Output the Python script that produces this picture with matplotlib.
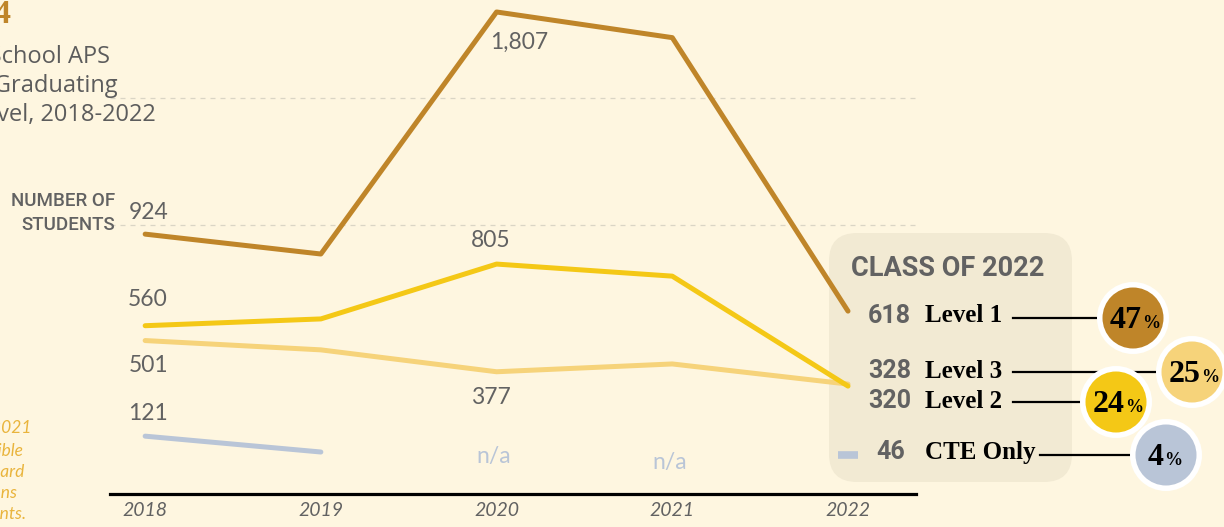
import matplotlib.pyplot as plt
import matplotlib.transforms as mtransforms
from matplotlib.patches import FancyBboxPatch, Circle
from matplotlib.lines import Line2D

# data
years = [2018, 2019, 2020, 2021, 2022]
level1 = [924, 845, 1807, 1705, 618]
level2 = [560, 587, 805, 757, 320]
level3 = [501, 464, 377, 408, 328]
cte_years = [2018, 2019]
cte = [121, 58]
cte_2022 = 46
na_years = [2020, 2021]

legend_labels = ['Level 1', 'Level 3', 'Level 2', 'CTE Only']
legend_counts = [618, 328, 320, 46]
legend_pcts = [47, 25, 24, 4]
grid_vals = [960, 1465]

# colours
bg = '#FEF6E0'
c1 = '#BF8529'
c2 = '#F4C816'
c3 = '#F6D37A'
c4 = '#B9C5D7'
grey = '#626262'
sans = ['Lato', 'DejaVu Sans']
bold_sans = ['Roboto', 'DejaVu Sans']
serif = ['Liberation Serif', 'DejaVu Serif']

W, H = 1224, 527
fig = plt.figure(figsize=(W / 100, H / 100), dpi=100, facecolor=bg)
# pixel coords, origin top-left
px = mtransforms.Affine2D().scale(1 / 100, -1 / 100).translate(0, H / 100) + fig.dpi_scale_trans

ax = fig.add_axes([110 / W, 1 - 494 / H, (916 - 110) / W, 494 / H])
ax.patch.set_visible(False)
ax.set_xlim(2017.80, 2022.387)
ax.set_ylim(-108.9, 1854.6)
for s in ['top', 'right', 'left']:
    ax.spines[s].set_visible(False)
ax.spines['bottom'].set_linewidth(2.3)
ax.spines['bottom'].set_color('black')

ax.set_yticks(grid_vals)
ax.set_yticklabels([])
ax.yaxis.grid(True, linestyle=(0, (4, 4)), color='#DAD5C5', linewidth=0.9)
ax.tick_params(axis='y', length=0)
ax.set_xticks(years)
ax.set_xticklabels([str(y) for y in years], fontsize=14, style='italic',
                   color=grey, family=sans)
ax.tick_params(axis='x', length=0, pad=6)

kw = dict(lw=3.6, solid_capstyle='round', solid_joinstyle='round', clip_on=False)
ax.plot(cte_years, cte, color=c4, **kw)
ax.plot(years, level3, color=c3, **kw)
ax.plot(years, level2, color=c2, **kw)
ax.plot(years, level1, color=c1, **kw)
ax.plot([2022], [cte_2022], marker='_', markersize=15, mew=5.5, color=c4,
        solid_capstyle='round', clip_on=False)

# value labels (series, year index, offset in px)
labels = [(level1, 0, (3, 22)), (level1, 2, (23, -30)),
          (level2, 0, (3, 26)), (level2, 2, (-6, 24)),
          (level3, 0, (3, -25)), (level3, 2, (-6, -26)),
          (cte, 0, (3, 23))]
for series, i, off in labels:
    ax.annotate(f'{series[i]:,}', (years[i], series[i]), xytext=off,
                textcoords='offset pixels', ha='center', va='center',
                fontsize=16.5, color=grey, family=sans)
for yr, dy in zip(na_years, [10, 4]):
    ax.annotate('n/a', (yr, 0), xytext=(-3, dy), textcoords='offset pixels',
                ha='center', va='center', fontsize=16.5, color=c4, family=sans)

# title (clipped at the left edge)
fig.text(11, 23, 'Figure 4', transform=px, ha='right', va='baseline',
         fontsize=24, fontweight='bold', color=c1, family=serif)
for txt, x, y in [('High School APS', 110, 63), ('Students Graduating', 118, 92),
                  ('by Level, 2018-2022', 156, 121)]:
    fig.text(x, y, txt, transform=px, ha='right', va='baseline',
             fontsize=17, color='#5c5c5c', family=['Open Sans', 'DejaVu Sans'])
fig.text(115, 201, 'NUMBER OF', transform=px, ha='right', va='center',
         fontsize=13.5, fontweight='medium', color=grey, family=bold_sans)
fig.text(115, 225, 'STUDENTS', transform=px, ha='right', va='center',
         fontsize=13.5, fontweight='medium', color=grey, family=bold_sans)

# footnote (clipped)
for txt, x, y in [('*In 2020 and 2021', 32, 428), ('students were eligible', 23, 451),
                  ('for a standard', 24, 472), ('diploma with exemptions', 17, 493),
                  ('from assessments.', 26, 514)]:
    fig.text(x, y, txt, transform=px, ha='right', va='center', fontsize=12.5,
             style='italic', color='#E9B43C', family=sans)

# legend box
box = FancyBboxPatch((829, 233), 243, 249, boxstyle='round,pad=0,rounding_size=28',
                     transform=px, facecolor='#F2EAD3', edgecolor='none', zorder=-1)
fig.add_artist(box)
fig.text(851, 268, 'CLASS OF 2022', transform=px, ha='left', va='center',
         fontsize=19.5, fontweight='bold', color=grey, family=bold_sans)

rows_y = [316, 371, 401, 452]
num_x = [911, 911, 911, 905]
line_x0 = [1013, 1013, 1013, 1040]
circ = [(1133, 318), (1192, 372), (1116, 402), (1166, 455)]
fills = [c1, c3, c2, c4]
for lab, cnt, pct, y, nx, lx, (cx, cy), fc in zip(legend_labels, legend_counts, legend_pcts,
                                                rows_y, num_x, line_x0, circ, fills):
    fig.text(nx, y, str(cnt), transform=px, ha='right', va='center',
             fontsize=18, fontweight='bold', color=grey, family=bold_sans)
    fig.text(925, y, lab, transform=px, ha='left', va='center',
             fontsize=18, fontweight='bold', color='black', family=serif)
    fig.add_artist(Line2D([lx, cx], [cy, cy], transform=px, color='black', lw=1.6, zorder=1))
    fig.add_artist(Circle((cx, cy), 36, transform=px, facecolor='white', edgecolor='none', zorder=2))
    fig.add_artist(Circle((cx, cy), 30.5, transform=px, facecolor=fc, edgecolor='none', zorder=2))
    s = str(pct)
    dx = 9 if len(s) == 2 else -2
    fig.text(cx + dx, cy + 10, s, transform=px, ha='right', va='baseline',
             fontsize=23, fontweight='bold', color='black', family=serif, zorder=3)
    fig.text(cx + dx, cy + 10, '%', transform=px, ha='left', va='baseline',
             fontsize=13, fontweight='bold', color='black', family=serif, zorder=3)

fig.savefig('out.png', dpi=100, facecolor=bg)
